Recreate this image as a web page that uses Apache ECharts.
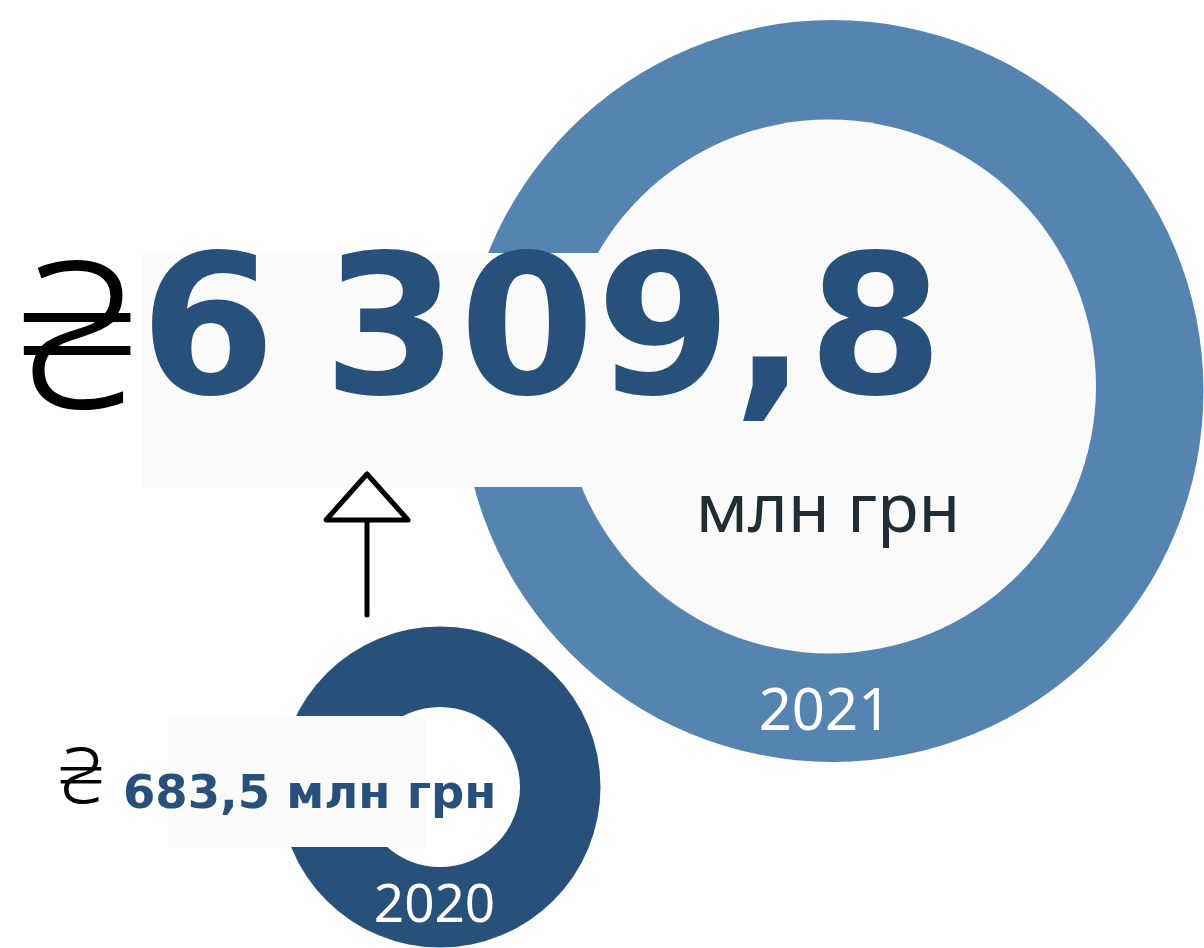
<!DOCTYPE html>
<html>
<head>
<meta charset="utf-8">
<script src="https://cdn.jsdelivr.net/npm/echarts@6/dist/echarts.min.js"></script>
<style>
  html, body { margin: 0; padding: 0; background: #ffffff; }
  #chart { width: 1204px; height: 948px; }
</style>
</head>
<body>
<div id="chart"></div>
<script>
// Revenue by year, million UAH
const years = ['2020', '2021'];
const revenue = [683.5, 6309.8];
const unitLabel = 'млн грн';
const currencySign = '₴';

// "6309.8" -> "6 309,8" (Ukrainian number style)
function formatUAH(v, sep) {
  const parts = v.toFixed(1).split('.');
  return parts[0].replace(/\B(?=(\d{3})+(?!\d))/g, sep) + ',' + parts[1];
}

const ringColors = ['#27507b', '#5584b0'];
const panelColor = '#fafafa';
const numberColor = '#27507b';
const unitColor = '#222c33';

const chart = echarts.init(document.getElementById('chart'), null, { renderer: 'canvas' });

const pieBase = {
  type: 'pie',
  silent: true,
  animation: false,
  label: { show: false },
  labelLine: { show: false },
  emphasis: { disabled: true },
  startAngle: 90
};

function txt(text, x, y, size, weight, family, color, align, z) {
  return {
    type: 'text', x: x, y: y, z: z || 20,
    style: {
      text: text,
      fontSize: size, fontWeight: weight, fontFamily: family,
      fill: color,
      align: align, verticalAlign: 'middle',
      textAlign: align, textVerticalAlign: 'middle'
    }
  };
}

// Headline figure, set glyph by glyph so the digit group space stays narrow
const measureCtx = document.createElement('canvas').getContext('2d');
function trackedText(text, x, y, size, weight, family, color, tracking, spaceWidth) {
  measureCtx.font = weight + ' ' + size + 'px "' + family + '"';
  const out = [];
  let cx = x;
  for (const ch of text) {
    if (ch === ' ') { cx += spaceWidth * size; continue; }
    out.push(txt(ch, cx, y, size, weight, family, color, 'left'));
    cx += measureCtx.measureText(ch).width + tracking * size;
  }
  return out;
}

chart.setOption({
  backgroundColor: '#ffffff',
  series: [
    // 2020 ring
    Object.assign({}, pieBase, {
      center: [440, 787], radius: [80, 160.5],
      itemStyle: { color: ringColors[0], borderWidth: 0 },
      data: [{ name: years[0], value: revenue[0] }]
    }),
    // 2021 ring: solid disc plus a lighter inner face
    Object.assign({}, pieBase, {
      center: [832.5, 391], radius: [0, 371],
      itemStyle: { color: ringColors[1], borderWidth: 0 },
      data: [{ name: years[1], value: revenue[1] }]
    }),
    Object.assign({}, pieBase, {
      center: [829, 386.5], radius: [0, 267],
      itemStyle: { color: panelColor, borderWidth: 0 },
      data: [{ name: years[1], value: revenue[1] }]
    })
  ],
  graphic: [
    // label panels
    { type: 'rect', z: 10, shape: { x: 142, y: 253, width: 500, height: 234 }, style: { fill: panelColor } },
    { type: 'rect', z: 10, shape: { x: 168, y: 716, width: 258, height: 131 }, style: { fill: panelColor } },

    // growth arrow
    { type: 'line', z: 15, shape: { x1: 367, y1: 520, x2: 367, y2: 615 },
      style: { stroke: '#000', lineWidth: 5, lineCap: 'round' } },
    { type: 'polygon', z: 16, shape: { points: [[367, 474], [326, 520], [408, 520]] },
      style: { fill: '#ffffff', stroke: '#000', lineWidth: 5, lineJoin: 'round' } },

    // 2021 value
    txt(currencySign, 77, 350, 205, '300', 'Noto Sans', '#000000', 'center'),
    ...trackedText(formatUAH(revenue[1], ' '), 140, 342, 195, 'bold', 'DejaVu Sans', numberColor, 0.005, 0.236),
    txt(unitLabel, 828, 513, 68, 'normal', 'Noto Sans', unitColor, 'center'),
    txt(years[1], 825, 713, 58, 'normal', 'Noto Sans', '#ffffff', 'center'),

    // 2020 value
    txt(currencySign, 81, 781, 78, '300', 'Noto Sans', '#000000', 'center'),
    txt(formatUAH(revenue[0], ' ') + ' ' + unitLabel, 123, 796, 46.5, 'bold', 'DejaVu Sans', numberColor, 'left'),
    txt(years[0], 434.5, 907, 53, 'normal', 'Noto Sans', '#ffffff', 'center')
  ]
});
</script>
</body>
</html>
